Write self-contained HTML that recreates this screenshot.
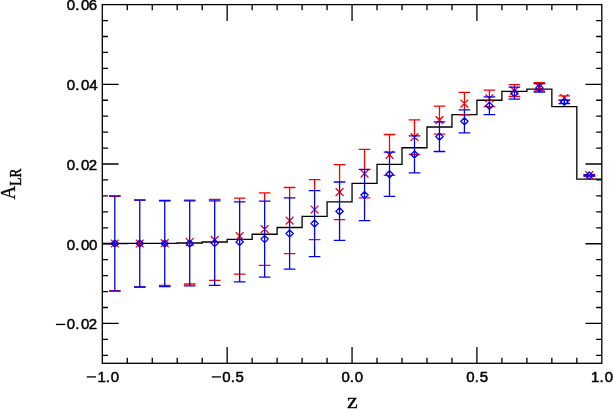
<!DOCTYPE html>
<html><head><meta charset="utf-8"><title>A_LR vs z</title>
<style>html,body{margin:0;padding:0;background:#fff}svg{display:block}</style></head>
<body>
<svg width="613" height="409" viewBox="0 0 613 409">
<rect width="613" height="409" fill="#fff"/>
<g stroke="#000" stroke-width="1.3" fill="none" stroke-linecap="butt">
<rect x="102.3" y="4.6" width="499.50" height="358.70"/>
<path d="M127.27 363.3v-5.6M127.27 4.6v5.6M152.25 363.3v-5.6M152.25 4.6v5.6M177.22 363.3v-5.6M177.22 4.6v5.6M202.20 363.3v-5.6M202.20 4.6v5.6M227.17 363.3v-16.3M227.17 4.6v16.3M252.15 363.3v-5.6M252.15 4.6v5.6M277.12 363.3v-5.6M277.12 4.6v5.6M302.10 363.3v-5.6M302.10 4.6v5.6M327.07 363.3v-5.6M327.07 4.6v5.6M352.05 363.3v-16.3M352.05 4.6v16.3M377.02 363.3v-5.6M377.02 4.6v5.6M402.00 363.3v-5.6M402.00 4.6v5.6M426.97 363.3v-5.6M426.97 4.6v5.6M451.95 363.3v-5.6M451.95 4.6v5.6M476.92 363.3v-16.3M476.92 4.6v16.3M501.90 363.3v-5.6M501.90 4.6v5.6M526.88 363.3v-5.6M526.88 4.6v5.6M551.85 363.3v-5.6M551.85 4.6v5.6M576.82 363.3v-5.6M576.82 4.6v5.6M102.3 355.33h5.6M601.8 355.33h-5.6M102.3 339.39h5.6M601.8 339.39h-5.6M102.3 323.44h16.3M601.8 323.44h-16.3M102.3 307.50h5.6M601.8 307.50h-5.6M102.3 291.56h5.6M601.8 291.56h-5.6M102.3 275.62h5.6M601.8 275.62h-5.6M102.3 259.68h5.6M601.8 259.68h-5.6M102.3 243.73h16.3M601.8 243.73h-16.3M102.3 227.79h5.6M601.8 227.79h-5.6M102.3 211.85h5.6M601.8 211.85h-5.6M102.3 195.91h5.6M601.8 195.91h-5.6M102.3 179.96h5.6M601.8 179.96h-5.6M102.3 164.02h16.3M601.8 164.02h-16.3M102.3 148.08h5.6M601.8 148.08h-5.6M102.3 132.14h5.6M601.8 132.14h-5.6M102.3 116.20h5.6M601.8 116.20h-5.6M102.3 100.25h5.6M601.8 100.25h-5.6M102.3 84.31h16.3M601.8 84.31h-16.3M102.3 68.37h5.6M601.8 68.37h-5.6M102.3 52.43h5.6M601.8 52.43h-5.6M102.3 36.48h5.6M601.8 36.48h-5.6M102.3 20.54h5.6M601.8 20.54h-5.6"/>
<path d="M102.3 243.5L102.30 243.5L127.27 243.5L127.27 243.45L152.25 243.45L152.25 243.35L177.22 243.35L177.22 243.0L202.20 243.0L202.20 242.0L227.17 242.0L227.17 239.4L252.15 239.4L252.15 234.25L277.12 234.25L277.12 227.5L302.10 227.5L302.10 216.3L327.07 216.3L327.07 201.85L352.05 201.85L352.05 183.4L377.02 183.4L377.02 164.3L402.00 164.3L402.00 147.75L426.97 147.75L426.97 127.0L451.95 127.0L451.95 114.7L476.92 114.7L476.92 100.25L501.90 100.25L501.90 91.35L526.88 91.35L526.88 89.2L551.85 89.2L551.85 106.7L576.82 106.7L576.82 179.1L601.80 179.1" stroke-linejoin="miter"/>
</g>
<path d="M108.99 196.35h11.6M108.99 290.65h11.6M110.89 239.60l7.8 7.8M110.89 247.40l7.8 -7.8M139.76 200.00V200.40M139.76 286.70V287.00M133.96 200.00h11.6M133.96 287.00h11.6M135.86 239.60l7.8 7.8M135.86 247.40l7.8 -7.8M158.94 200.90h11.6M158.94 285.50h11.6M160.84 239.30l7.8 7.8M160.84 247.10l7.8 -7.8M189.71 200.10V201.25M183.91 200.10h11.6M183.91 284.00h11.6M185.81 238.15l7.8 7.8M185.81 245.95l7.8 -7.8M214.69 199.40V201.20M208.89 199.40h11.6M208.89 280.40h11.6M210.79 236.00l7.8 7.8M210.79 243.80l7.8 -7.8M239.66 198.15V202.25M233.86 198.15h11.6M233.86 274.15h11.6M235.76 232.25l7.8 7.8M235.76 240.05l7.8 -7.8M264.64 192.90V201.40M258.84 192.90h11.6M258.84 265.30h11.6M260.74 225.20l7.8 7.8M260.74 233.00l7.8 -7.8M289.61 187.50V198.20M283.81 187.50h11.6M283.81 253.70h11.6M285.71 216.70l7.8 7.8M285.71 224.50l7.8 -7.8M314.59 179.55V190.85M308.79 179.55h11.6M308.79 239.55h11.6M310.69 205.65l7.8 7.8M310.69 213.45l7.8 -7.8M339.56 164.60V182.30M333.76 164.60h11.6M333.76 219.60h11.6M335.66 188.20l7.8 7.8M335.66 196.00l7.8 -7.8M364.54 149.30V169.70M358.74 149.30h11.6M358.74 197.90h11.6M360.64 169.70l7.8 7.8M360.64 177.50l7.8 -7.8M389.51 134.50V152.50M383.71 134.50h11.6M383.71 175.30h11.6M385.61 151.00l7.8 7.8M385.61 158.80l7.8 -7.8M414.49 119.80V136.20M408.69 119.80h11.6M408.69 154.50h11.6M410.59 133.25l7.8 7.8M410.59 141.05l7.8 -7.8M439.46 106.20V122.10M433.66 106.20h11.6M433.66 134.10h11.6M435.56 116.25l7.8 7.8M435.56 124.05l7.8 -7.8M464.44 92.30V110.10M458.64 92.30h11.6M458.64 114.80h11.6M460.54 99.65l7.8 7.8M460.54 107.45l7.8 -7.8M489.41 90.20V97.10M483.61 90.20h11.6M483.61 106.60h11.6M485.51 94.50l7.8 7.8M485.51 102.30l7.8 -7.8M514.39 84.70V87.50M508.59 84.70h11.6M508.59 96.50h11.6M510.49 86.70l7.8 7.8M510.49 94.50l7.8 -7.8M539.36 82.70V84.00M533.56 82.70h11.6M533.56 91.10h11.6M535.46 83.00l7.8 7.8M535.46 90.80l7.8 -7.8M564.34 95.80V100.20M558.54 95.80h11.6M558.54 100.20h11.6M560.44 94.10l7.8 7.8M560.44 101.90l7.8 -7.8M589.31 174.60V175.20M583.51 174.60h11.6M583.51 175.80h11.6M585.41 171.30l7.8 7.8M585.41 179.10l7.8 -7.8" stroke="#ff0000" stroke-width="1.3" fill="none"/>
<path d="M114.79 195.80V291.20M108.99 195.80h11.6M108.99 291.20h11.6M114.79 239.90l3.6 3.6l-3.6 3.6l-3.6 -3.6zM139.76 200.10V287.00M133.96 200.10h11.6M133.96 287.00h11.6M139.76 239.95l3.6 3.6l-3.6 3.6l-3.6 -3.6zM164.74 200.50V286.60M158.94 200.50h11.6M158.94 286.60h11.6M164.74 239.95l3.6 3.6l-3.6 3.6l-3.6 -3.6zM189.71 200.95V285.95M183.91 200.95h11.6M183.91 285.95h11.6M189.71 239.85l3.6 3.6l-3.6 3.6l-3.6 -3.6zM214.69 200.90V285.30M208.89 200.90h11.6M208.89 285.30h11.6M214.69 239.50l3.6 3.6l-3.6 3.6l-3.6 -3.6zM239.66 201.95V281.95M233.86 201.95h11.6M233.86 281.95h11.6M239.66 238.35l3.6 3.6l-3.6 3.6l-3.6 -3.6zM264.64 201.10V277.10M258.84 201.10h11.6M258.84 277.10h11.6M264.64 235.50l3.6 3.6l-3.6 3.6l-3.6 -3.6zM289.61 197.90V269.20M283.81 197.90h11.6M283.81 269.20h11.6M289.61 229.95l3.6 3.6l-3.6 3.6l-3.6 -3.6zM314.59 190.55V256.55M308.79 190.55h11.6M308.79 256.55h11.6M314.59 219.95l3.6 3.6l-3.6 3.6l-3.6 -3.6zM339.56 182.00V240.40M333.76 182.00h11.6M333.76 240.40h11.6M339.56 207.60l3.6 3.6l-3.6 3.6l-3.6 -3.6zM364.54 169.40V220.70M358.74 169.40h11.6M358.74 220.70h11.6M364.54 191.45l3.6 3.6l-3.6 3.6l-3.6 -3.6zM389.51 152.20V196.40M383.71 152.20h11.6M383.71 196.40h11.6M389.51 170.70l3.6 3.6l-3.6 3.6l-3.6 -3.6zM414.49 135.90V172.90M408.69 135.90h11.6M408.69 172.90h11.6M414.49 150.80l3.6 3.6l-3.6 3.6l-3.6 -3.6zM439.46 121.80V151.50M433.66 121.80h11.6M433.66 151.50h11.6M439.46 133.05l3.6 3.6l-3.6 3.6l-3.6 -3.6zM464.44 109.80V132.80M458.64 109.80h11.6M458.64 132.80h11.6M464.44 117.70l3.6 3.6l-3.6 3.6l-3.6 -3.6zM489.41 96.80V114.60M483.61 96.80h11.6M483.61 114.60h11.6M489.41 102.10l3.6 3.6l-3.6 3.6l-3.6 -3.6zM514.39 87.20V99.10M508.59 87.20h11.6M508.59 99.10h11.6M514.39 89.55l3.6 3.6l-3.6 3.6l-3.6 -3.6zM539.36 83.70V92.10M533.56 83.70h11.6M533.56 92.10h11.6M539.36 84.30l3.6 3.6l-3.6 3.6l-3.6 -3.6zM564.34 100.10V103.50M558.54 100.10h11.6M558.54 103.50h11.6M564.34 98.20l3.6 3.6l-3.6 3.6l-3.6 -3.6zM589.31 174.90V176.10M583.51 174.90h11.6M583.51 176.10h11.6M589.31 171.90l3.6 3.6l-3.6 3.6l-3.6 -3.6z" stroke="#0000ff" stroke-width="1.3" fill="none"/>
<g font-family="Liberation Sans, sans-serif" font-size="15.0" fill="#000" stroke="#000" stroke-width="0.5" style="filter:grayscale(1)">
<text x="66.71 75.33 80.91 88.74" y="9.80">0.06</text>
<text x="66.71 75.33 80.91 89.16" y="90.11">0.04</text>
<text x="66.71 75.33 80.91 88.75" y="169.82">0.02</text>
<text x="66.71 75.33 80.91 88.91" y="249.53">0.00</text>
<text x="66.71 75.33 80.91 88.75" y="329.24">0.02</text><path d="M55.9 324.44H65.3" stroke="#000" stroke-width="1.3" fill="none"/>
<text x="97.51 105.68 110.86" y="381.70">1.0</text><path d="M86.75 376.90H96.0" stroke="#000" stroke-width="1.3" fill="none"/>
<text x="222.26 230.68 235.45" y="381.70">0.5</text><path d="M211.75 376.90H221.0" stroke="#000" stroke-width="1.3" fill="none"/>
<text x="341.41 349.68 354.86" y="381.70">0.0</text>
<text x="466.26 474.68 479.65" y="381.70">0.5</text>
<text x="591.01 599.58 604.76" y="381.70">1.0</text>
</g>
<g font-family="Liberation Serif, serif" fill="#000" stroke="#000" stroke-width="0.3" style="filter:grayscale(1)">
<text transform="translate(347.0,407.95) scale(1.15,1)" font-size="21">z</text>
<text transform="translate(15.45,199.5) rotate(-90) scale(0.877,1)" font-size="21.6">A</text>
<text transform="translate(20.85,185.75) rotate(-90) scale(0.84,1)" font-size="16" stroke-width="0.4">LR</text>
</g>
</svg>
</body></html>
